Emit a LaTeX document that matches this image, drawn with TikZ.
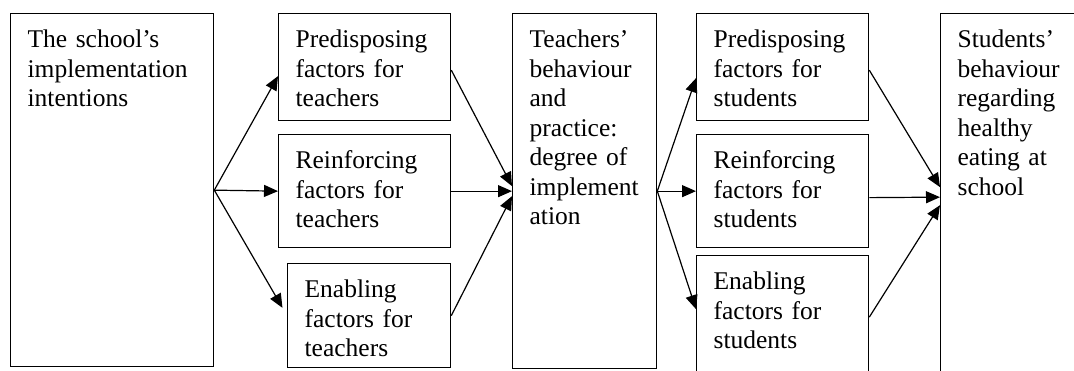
\documentclass[tikz,border=0pt]{standalone}
\usepackage{fontspec}
\setmainfont{Liberation Serif}
\usetikzlibrary{arrows.meta}
\hyphenpenalty=10000
\exhyphenpenalty=10000

\begin{document}
\begin{tikzpicture}[x=1pt, y=1pt]
			\tikzset{cadre/.style={draw=black, line width=1.3pt, anchor=north west, inner xsep=17pt, inner ysep=16pt, text height=18pt, align=left, font=\fontsize{25.5}{29.5}\selectfont}, fleche/.style={-{Triangle[length=14pt, width=12pt]}, line width=1.2pt}};

			\useasboundingbox (0,0) rectangle (1074,370);
			\clip (0,0) rectangle (1074,370);

			\node[cadre, text width=169pt, text depth=303pt] (ecole) at (  10,  357) {The school's\\implementation\\intentions};

			\node[cadre, text width=138pt, text depth=57pt] (predP) at ( 278,  357) {Predisposing\\factors for\\teachers};
			\node[cadre, text width=138pt, text depth=63pt] (renP)  at ( 278,  236) {Reinforcing\\factors for\\teachers};
			\node[cadre, text width=129pt, text depth=54pt] (facP)  at ( 287,  107) {Enabling\\factors for\\teachers};

			\node[cadre, text width=110pt, text depth=305pt] (prat) at ( 512,  357) {Teachers'\\behaviour\\and\\practice:\\degree of\\implement\\ation};

			\node[cadre, text width=138pt, text depth=57pt] (predE) at ( 696,  357) {Predisposing\\factors for\\students};
			\node[cadre, text width=138pt, text depth=63pt] (renE)  at ( 696,  236) {Reinforcing\\factors for\\students};
			\node[cadre, text width=138pt, text depth=75pt] (facE)  at ( 696,  115) {Enabling\\factors for\\students};

			\node[cadre, text width=126pt, text depth=317pt] (eleves) at ( 940,  357) {Students'\\behaviour\\regarding\\healthy\\eating at\\school};


			\draw[fleche] (ecole.east) to ([yshift=-9pt]predP.west);
			\draw[fleche] (ecole.east) to (renP.west);
			\draw[fleche, shorten >=9pt] (ecole.east) to (facP.west);

			\draw[fleche] ([yshift=-3pt]predP.east) to ([yshift=5pt]prat.west);
			\draw[fleche] (renP.east) to (prat.west);
			\draw[fleche] (facP.east) to ([yshift=-5pt]prat.west);

			\draw[fleche] (prat.east) to ([yshift=-11pt]predE.west);
			\draw[fleche] (prat.east) to (renE.west);
			\draw[fleche] (prat.east) to ([yshift=9pt]facE.west);

			\draw[fleche] ([yshift=-3pt]predE.east) to ([yshift=10pt]eleves.west);
			\draw[fleche] ([yshift=-6.5pt]renE.east) to (eleves.west);
			\draw[fleche] ([yshift=1pt]facE.east) to ([yshift=-8pt]eleves.west);

		\end{tikzpicture}
\end{document}
